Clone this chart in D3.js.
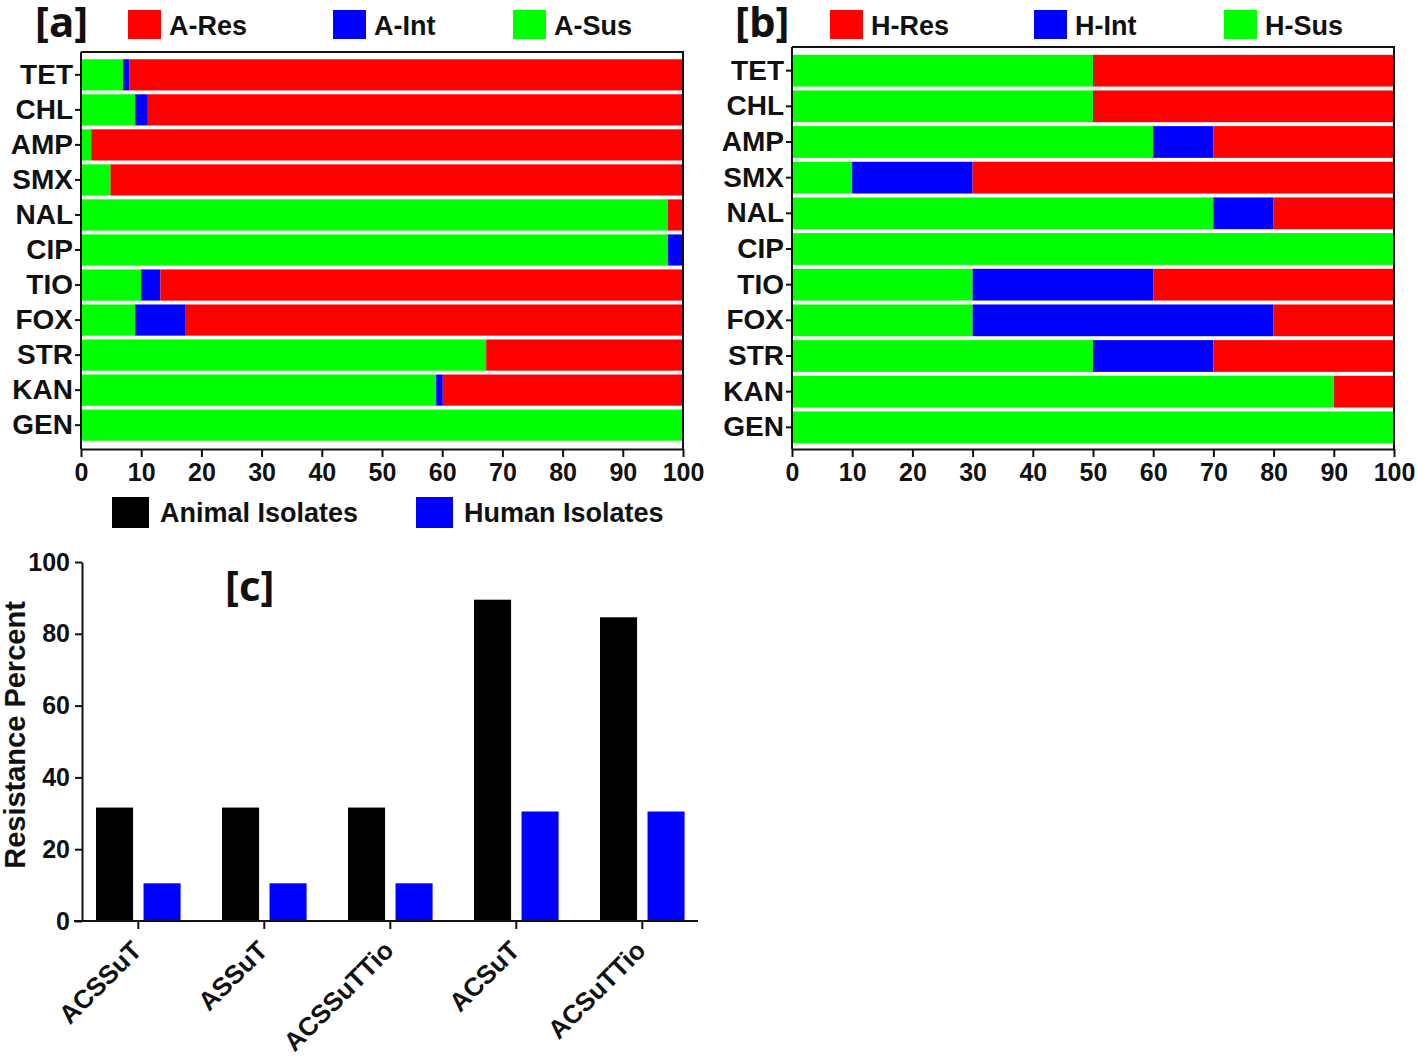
<!DOCTYPE html>
<html lang="en">
<head>
<meta charset="UTF-8" />
<script src="https://d3js.org/d3.v7.min.js"></script>
<title>Resistance</title>
<style>
  body { margin: 0; overflow: hidden; background: white; }
  svg { background-color: white; }
  .cat text { font-family: "Liberation Sans", Arial, sans-serif; font-weight: bold; font-size: 28px; fill: #111; }
  .num text { font-family: "Liberation Sans", Arial, sans-serif; font-weight: bold; font-size: 25px; fill: #111; }
  .leg { font-family: "Liberation Sans", Arial, sans-serif; font-weight: bold; font-size: 27px; fill: #111; }
  .tag { font-family: "Open Sans", "DejaVu Sans", sans-serif; font-weight: bold; font-size: 42px; fill: #111; }
  .domain, .tick line { stroke: #111; stroke-width: 2px; }
</style>
</head>
<body>
<script>
// drug categories (top to bottom)
const drugs = ["TET", "CHL", "AMP", "SMX", "NAL", "CIP", "TIO", "FOX", "STR", "KAN", "GEN"];

// panel a, animal isolates (%)
const aSus = [7, 9, 1.7, 4.9, 97.5, 97.5, 10, 9, 67.3, 59, 100];
const aInt = [1, 2.1, 0, 0, 0, 2.5, 3.2, 8.4, 0, 1.1, 0];
const aRes = [92, 88.9, 98.3, 95.1, 2.5, 0, 86.8, 82.6, 32.7, 39.9, 0];

// panel b, human isolates (%)
const hSus = [50, 50, 60, 10, 70, 100, 30, 30, 50, 90, 100];
const hInt = [0, 0, 10, 20, 10, 0, 30, 50, 20, 0, 0];
const hRes = [50, 50, 30, 70, 20, 0, 40, 20, 30, 10, 0];

// panel c, multidrug patterns
const patterns = ["ACSSuT", "ASSuT", "ACSSuTTio", "ACSuT", "ACSuTTio"];
const animalPct = [31.6, 31.6, 31.6, 89.5, 84.6];
const humanPct = [10.5, 10.5, 10.5, 30.5, 30.5];

const xTicks = [0, 10, 20, 30, 40, 50, 60, 70, 80, 90, 100];
const yTicksC = [0, 20, 40, 60, 80, 100];

const colors = { Sus: "#00ff00", Int: "#0000ff", Res: "#ff0000" };

const svg = d3.select("body").append("svg")
  .attr("width", 1418)
  .attr("height", 1059);

function stackPanel(opt) {
  const rows = drugs.map((d, i) => ({ drug: d, Sus: opt.sus[i], Int: opt.int[i], Res: opt.res[i] }));
  const series = d3.stack().keys(["Sus", "Int", "Res"])(rows);

  const x = d3.scaleLinear().domain([0, 100]).range([opt.left, opt.right]);
  const y = d3.scaleBand().domain(drugs).range([opt.bandTop, opt.bandBottom])
    .paddingInner(0.11).paddingOuter(0.05);

  const g = svg.append("g");

  g.selectAll("g.series")
    .data(series)
    .join("g")
    .attr("fill", s => colors[s.key])
    .selectAll("rect")
    .data(s => s)
    .join("rect")
    .attr("x", d => x(d[0]))
    .attr("y", d => y(d.data.drug))
    .attr("width", d => x(d[1]) - x(d[0]))
    .attr("height", y.bandwidth());

  // frame top / right
  g.append("path")
    .attr("d", `M${opt.left},${opt.top}H${opt.right}V${opt.bottom}`)
    .attr("fill", "none").attr("stroke", "#111").attr("stroke-width", 2);

  g.append("g").attr("class", "cat")
    .attr("transform", `translate(${opt.left},0)`)
    .call(d3.axisLeft(y).tickSize(6).tickPadding(2).tickSizeOuter(0))
    .call(a => a.select(".domain").attr("d", `M0,${opt.top}V${opt.bottom}`));

  g.append("g").attr("class", "num")
    .attr("transform", `translate(0,${opt.bottom})`)
    .call(d3.axisBottom(x).tickValues(xTicks).tickSize(8).tickPadding(6).tickSizeOuter(0));

  // legend
  const keys = ["Res", "Int", "Sus"];
  keys.forEach((k, i) => {
    const lx = opt.legX[i];
    g.append("rect").attr("x", lx).attr("y", 10).attr("width", 33).attr("height", 29)
      .attr("fill", colors[k]);
    g.append("text").attr("class", "leg").attr("x", lx + 41).attr("y", 35)
      .text(opt.prefix + "-" + k);
  });

  g.append("text").attr("class", "tag").attr("x", opt.tagX).attr("y", 37).text(opt.tag);
}

stackPanel({
  sus: aSus, int: aInt, res: aRes,
  left: 81, right: 683, top: 52, bottom: 449,
  bandTop: 57.5, bandBottom: 442.5,
  legX: [128, 333, 513], prefix: "A", tag: "[a]", tagX: 35
});

stackPanel({
  sus: hSus, int: hInt, res: hRes,
  left: 792, right: 1394, top: 47, bottom: 449,
  bandTop: 53, bandBottom: 445,
  legX: [830, 1034, 1224], prefix: "H", tag: "[b]", tagX: 735
});

// panel c grouped bars
const cLeft = 82, cRight = 698, cTop = 562, cBottom = 921;
const x0 = d3.scaleBand().domain(patterns).range([75.3, 705.3]).padding(0);
const x1 = d3.scaleBand().domain(["animal", "human"]).range([0, 84.6]).paddingInner(0.22);
const yC = d3.scaleLinear().domain([0, 100]).range([cBottom, cTop]);

const cRows = patterns.map((p, i) => ({ p, animal: animalPct[i], human: humanPct[i] }));
const barColor = { animal: "#000000", human: "#0000ff" };

const gc = svg.append("g");
gc.selectAll("g.grp")
  .data(cRows)
  .join("g")
  .attr("transform", d => `translate(${x0(d.p) + x0.bandwidth() / 2 - 42.3},0)`)
  .selectAll("rect")
  .data(d => ["animal", "human"].map(k => ({ k, v: d[k] })))
  .join("rect")
  .attr("x", d => x1(d.k))
  .attr("y", d => yC(d.v))
  .attr("width", x1.bandwidth())
  .attr("height", d => cBottom - yC(d.v))
  .attr("fill", d => barColor[d.k]);

gc.append("g").attr("class", "num")
  .attr("transform", `translate(${cLeft},0)`)
  .call(d3.axisLeft(yC).tickValues(yTicksC).tickSize(7).tickPadding(5).tickSizeOuter(0));

const xAx = gc.append("g").attr("class", "cat")
  .attr("transform", `translate(0,${cBottom})`)
  .call(d3.axisBottom(x0).tickSize(8).tickSizeOuter(0));
xAx.select(".domain").attr("d", `M${cLeft - 8},0H${cRight}`);
xAx.selectAll(".tick text")
  .attr("text-anchor", "end")
  .attr("x", 0)
  .attr("y", 0)
  .attr("dy", 0)
  .attr("transform", "translate(5,31) rotate(-45)")
  .style("font-size", "26px");

gc.append("text")
  .attr("transform", `translate(25,735) rotate(-90)`)
  .attr("text-anchor", "middle")
  .style("font-family", "'Liberation Sans', Arial, sans-serif")
  .style("font-weight", "bold")
  .style("font-size", "29px")
  .attr("fill", "#111")
  .text("Resistance Percent");

gc.append("text").attr("class", "tag").attr("x", 225).attr("y", 601).text("[c]");

// panel c legend
const cLeg = [
  { k: "animal", label: "Animal Isolates", x: 112 },
  { k: "human", label: "Human Isolates", x: 416 }
];
cLeg.forEach(l => {
  gc.append("rect").attr("x", l.x).attr("y", 497).attr("width", 37).attr("height", 31)
    .attr("fill", barColor[l.k]);
  gc.append("text").attr("class", "leg").attr("x", l.x + 48).attr("y", 522).text(l.label);
});
</script>
</body>
</html>
